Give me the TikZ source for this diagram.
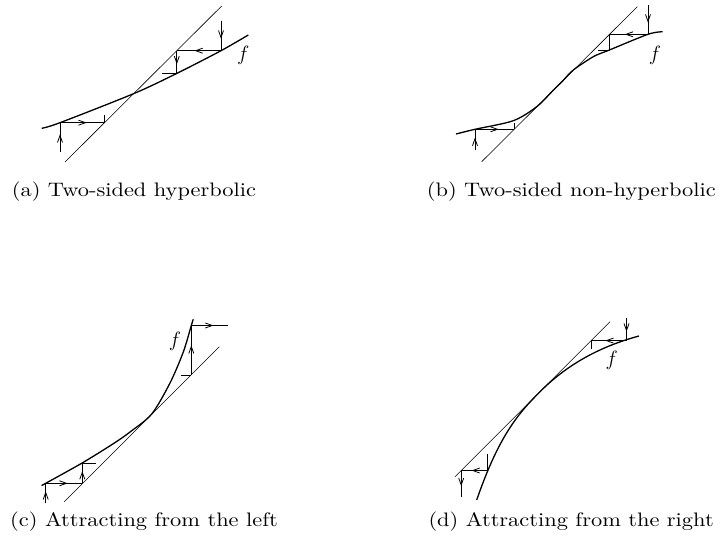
\documentclass[tikz,border=0pt]{standalone}
\usepackage{graphicx}
\usetikzlibrary{decorations.markings, arrows.meta}

\newcommand{\captext}[1]{\scalebox{2.24}[1.95]{#1}}

\begin{document}
\begin{tikzpicture}[
    x=1pt, y=-1pt,
    diagonal/.style={line width=0.6pt},
    map curve/.style={line width=1.3pt},
    stair/.style={line width=0.8pt},
    stair arrow/.style={
        stair,
        decoration={
            markings,
            mark=at position #1 with {\arrow{Straight Barb[length=7pt, width=5pt]}}
        },
        postaction={decorate}
    },
    stair arrow/.default=0.6,
    caption/.style={anchor=base west, inner sep=0pt},
    flabel/.style={inner sep=0pt, font=\fontsize{20}{24}\selectfont}
]
\useasboundingbox (0,0) rectangle (720,545);

% (a) Two-sided hyperbolic
\draw[diagonal] (65,162) -- (221.7,6);
\draw[map curve] plot[smooth] coordinates {(41.7,128.3) (60,122.7) (134,93.5) (177,73.3) (221,50.7) (248.3,35)};
\coordinate (a0) at (60,151.7);
\coordinate (a1) at (60,122.7);
\coordinate (a2) at (104.5,122.7);
\coordinate (a3) at (104.5,115.5);
\coordinate (a4) at (221,20.7);
\coordinate (a5) at (221,50.7);
\coordinate (a6) at (176.8,50.7);
\coordinate (a7) at (176.8,73.3);
\coordinate (a8) at (162,73.3);
\draw[stair arrow] (a0) -- (a1);
\draw[stair arrow] (a1) -- (a2);
\draw[stair] (a2) -- (a3);
\draw[stair arrow] (a4) -- (a5);
\draw[stair arrow] (a5) -- (a6);
\draw[stair arrow] (a6) -- (a7);
\draw[stair] (a7) -- (a8);
\node[flabel] (fA) at (243.3,55) {$f$};
\node[caption] (capA) at (11.7,197) {\captext{(a) Two-sided hyperbolic}};

% (b) Two-sided non-hyperbolic
\draw[diagonal] (481.7,161.7) -- (637.3,6.7);
\draw[map curve] plot[smooth] coordinates {(456,134) (475,129.3) (513.3,120.7) (536.7,106.7) (553.3,90.2) (563,80.6) (573.3,70) (593.3,56.7) (609.4,50) (648,34.3) (662.7,31.7)};
\coordinate (b0) at (475,150);
\coordinate (b1) at (475,129.3);
\coordinate (b2) at (514.4,129.3);
\coordinate (b3) at (514.4,123.3);
\coordinate (b4) at (648,5);
\coordinate (b5) at (648,34.3);
\coordinate (b6) at (609.4,34.3);
\coordinate (b7) at (609.4,50);
\coordinate (b8) at (598.3,50);
\draw[stair arrow] (b0) -- (b1);
\draw[stair arrow] (b1) -- (b2);
\draw[stair] (b2) -- (b3);
\draw[stair arrow] (b4) -- (b5);
\draw[stair arrow] (b5) -- (b6);
\draw[stair] (b6) -- (b7) -- (b8);
\node[flabel] (fB) at (655,55) {$f$};
\node[caption] (capB) at (426.7,197) {\captext{(b) Two-sided non-hyperbolic}};

% (c) Attracting from the left
\draw[diagonal] (64.3,501.7) -- (219.3,346.7);
\draw[map curve] plot[smooth] coordinates {(41.7,485.5) (45.7,483.3) (82.3,462.9) (113.3,443.7) (130,432) (151.7,414) (170,383) (183.3,352) (191.3,325.5) (193.3,319.3)};
\coordinate (c0) at (45.7,503.3);
\coordinate (c1) at (45.7,483.3);
\coordinate (c2) at (82.3,483.3);
\coordinate (c3) at (82.3,462.9);
\coordinate (c4) at (96,462.9);
\coordinate (c5) at (180.7,375);
\coordinate (c6) at (191.3,375);
\coordinate (c7) at (191.3,325.5);
\coordinate (c8) at (228.3,325.5);
\draw[stair arrow] (c0) -- (c1);
\draw[stair arrow] (c1) -- (c2);
\draw[stair arrow] (c2) -- (c3);
\draw[stair] (c3) -- (c4);
\draw[stair] (c5) -- (c6);
\draw[stair arrow] (c6) -- (c7);
\draw[stair arrow] (c7) -- (c8);
\node[flabel] (fC) at (175,341.7) {$f$};
\node[caption] (capC) at (10,526.7) {\captext{(c) Attracting from the left}};

% (d) Attracting from the right
\draw[diagonal] (455,476.7) -- (610,321.7);
\draw[map curve] (476.7,500) .. controls (498.7,436.2) and (518,413.7) .. (540,391.7)
    .. controls (570,361.7) and (604,345.5) .. (639,336);
\coordinate (d0) at (626.5,318.3);
\coordinate (d1) at (626.5,340.6);
\coordinate (d2) at (591.1,340.6);
\coordinate (d3) at (591.1,348.9);
\coordinate (d4) at (487,454);
\coordinate (d5) at (487,470.5);
\coordinate (d6) at (461.2,470.5);
\coordinate (d7) at (461.2,496.7);
\draw[stair arrow] (d0) -- (d1);
\draw[stair arrow] (d1) -- (d2);
\draw[stair] (d2) -- (d3);
\draw[stair] (d4) -- (d5);
\draw[stair arrow] (d5) -- (d6);
\draw[stair arrow] (d6) -- (d7);
\node[flabel] (fD) at (611.7,360) {$f$};
\node[caption] (capD) at (428.3,526.7) {\captext{(d) Attracting from the right}};

\end{tikzpicture}
\end{document}
